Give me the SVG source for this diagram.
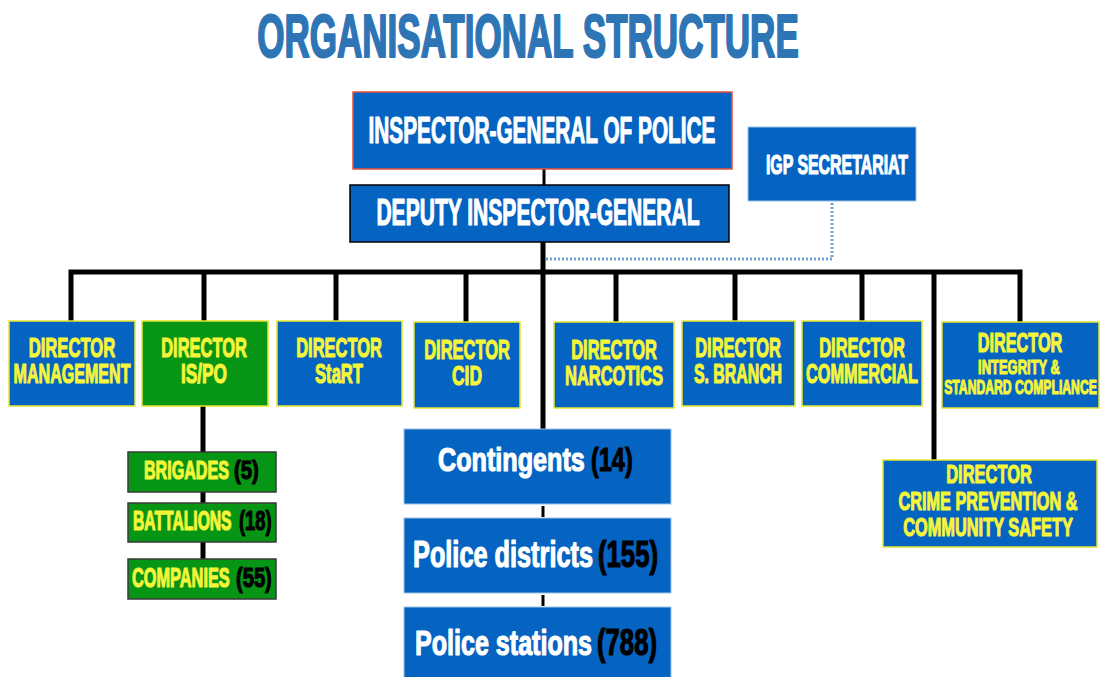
<svg xmlns="http://www.w3.org/2000/svg" width="1105" height="677" viewBox="0 0 1105 677">
<style>
text{font-family:"Liberation Sans",Arial,sans-serif;font-weight:bold;text-anchor:middle;stroke-width:1.2;stroke-linejoin:round}
.title{fill:#2E75B6;stroke:#2E75B6;stroke-width:2.2;font-size:62px}
.blue{fill:#0563C1}
.dir{fill:#0563C1;stroke:#E6E62E;stroke-width:1.5}
.dirg{fill:#079515;stroke:#E6E62E;stroke-width:1.5}
.sub{fill:#079515;stroke:#3a3a3a;stroke-width:1.5}
.stack{fill:#0563C1;stroke:#9DC3E6;stroke-width:1}
.w{fill:#FFFFFF;stroke:#FFFFFF}
.y{fill:#F5F53A;stroke:#F5F53A}
.k{fill:#000000;stroke:#000000}
.s{text-anchor:start}
.line{stroke:#000;stroke-width:5;fill:none}
.thin{stroke:#000;stroke-width:3;fill:none}
.dot{stroke:#6FA0D8;stroke-width:3;stroke-dasharray:2 2;fill:none}
</style>
<rect width="1105" height="677" fill="#FFFFFF"/>
<text class="title" transform="translate(528,57) scale(0.565,1)">ORGANISATIONAL STRUCTURE</text>

<g id="connectors">
<line class="thin" x1="544" y1="169" x2="544" y2="185"/>
<polyline class="dot" points="832,203 832,259 545,259"/>
<line class="line" x1="543" y1="242" x2="543" y2="429"/>
<polyline class="line" points="71,321 71,272 1020,272 1020,322"/>
<line class="line" x1="204" y1="272" x2="204" y2="321"/>
<line class="line" x1="336" y1="272" x2="336" y2="321"/>
<line class="line" x1="466" y1="272" x2="466" y2="322"/>
<line class="line" x1="616" y1="272" x2="616" y2="322"/>
<line class="line" x1="735" y1="272" x2="735" y2="321"/>
<line class="line" x1="862" y1="272" x2="862" y2="321"/>
<line class="line" x1="934" y1="272" x2="934" y2="460"/>
<line class="line" x1="203" y1="406" x2="203" y2="452"/>
<line class="line" x1="203" y1="492" x2="203" y2="503"/>
<line class="line" x1="203" y1="542" x2="203" y2="559"/>
<line class="thin" x1="543" y1="506" x2="543" y2="517"/>
<line class="thin" x1="543" y1="595" x2="543" y2="606"/>
</g>

<g id="igp">
<rect x="353" y="92" width="379" height="77" class="blue" stroke="#E8503A" stroke-width="1.5"/>
<text class="w" font-size="37" transform="translate(542,143) scale(0.562,1)">INSPECTOR-GENERAL OF POLICE</text>
</g>
<g id="deputy">
<rect x="350" y="185" width="379" height="57" class="blue" stroke="#000" stroke-width="1.5"/>
<text class="w" font-size="37" transform="translate(538,225) scale(0.569,1)">DEPUTY INSPECTOR-GENERAL</text>
</g>
<g id="secretariat">
<rect x="748" y="127" width="168" height="74" class="blue" stroke="#9DC3E6" stroke-width="1"/>
<text class="w" font-size="27" transform="translate(837,174) scale(0.589,1)">IGP SECRETARIAT</text>
</g>

<g id="dir-management">
<rect x="9" y="321" width="126" height="85" class="dir"/>
<text class="y" font-size="28" transform="translate(72,357) scale(0.595,1)">DIRECTOR</text>
<text class="y" font-size="28" transform="translate(72,383) scale(0.574,1)">MANAGEMENT</text>
</g>
<g id="dir-ispo">
<rect x="142" y="321" width="126" height="85" class="dirg"/>
<text class="y" font-size="28" transform="translate(204,357) scale(0.588,1)">DIRECTOR</text>
<text class="y" font-size="28" transform="translate(204,383) scale(0.616,1)">IS/PO</text>
</g>
<g id="dir-start">
<rect x="277" y="321" width="125" height="85" class="dir"/>
<text class="y" font-size="28" transform="translate(339,357) scale(0.588,1)">DIRECTOR</text>
<text class="y" font-size="28" transform="translate(339,383) scale(0.593,1)">StaRT</text>
</g>
<g id="dir-cid">
<rect x="414" y="322" width="106" height="86" class="dir"/>
<text class="y" font-size="28" transform="translate(467,359) scale(0.588,1)">DIRECTOR</text>
<text class="y" font-size="28" transform="translate(467,385) scale(0.622,1)">CID</text>
</g>
<g id="dir-narcotics">
<rect x="554" y="322" width="120" height="86" class="dir"/>
<text class="y" font-size="28" transform="translate(614,359) scale(0.588,1)">DIRECTOR</text>
<text class="y" font-size="28" transform="translate(614,385) scale(0.589,1)">NARCOTICS</text>
</g>
<g id="dir-sbranch">
<rect x="682" y="321" width="113" height="85" class="dir"/>
<text class="y" font-size="28" transform="translate(738,357) scale(0.588,1)">DIRECTOR</text>
<text class="y" font-size="28" transform="translate(738,383) scale(0.566,1)">S. BRANCH</text>
</g>
<g id="dir-commercial">
<rect x="802" y="321" width="120" height="85" class="dir"/>
<text class="y" font-size="28" transform="translate(862,357) scale(0.588,1)">DIRECTOR</text>
<text class="y" font-size="28" transform="translate(862,383) scale(0.581,1)">COMMERCIAL</text>
</g>
<g id="dir-integrity">
<rect x="942" y="322" width="157" height="86" class="dir"/>
<text class="y" font-size="27" transform="translate(1020,352) scale(0.603,1)">DIRECTOR</text>
<text class="y" font-size="21" transform="translate(1019,374) scale(0.617,1)">INTEGRITY &amp;</text>
<text class="y" font-size="21" transform="translate(1020.5,394) scale(0.58,1)">STANDARD COMPLIANCE</text>
</g>
<g id="dir-crime">
<rect x="883" y="460" width="214" height="87" class="dir"/>
<text class="y" font-size="26.5" transform="translate(989,483) scale(0.621,1)">DIRECTOR</text>
<text class="y" font-size="26.5" transform="translate(988,510) scale(0.614,1)">CRIME PREVENTION &amp;</text>
<text class="y" font-size="26.5" transform="translate(988,536) scale(0.618,1)">COMMUNITY SAFETY</text>
</g>

<g id="brigades">
<rect x="128" y="452" width="148" height="40" class="sub"/>
<text class="y s" font-size="26" transform="translate(144,479) scale(0.619,1)">BRIGADES</text>
<text class="k s" font-size="26" transform="translate(234,479) scale(0.78,1)">(5)</text>
</g>
<g id="battalions">
<rect x="128" y="503" width="148" height="39" class="sub"/>
<text class="y s" font-size="27" transform="translate(133,530) scale(0.58,1)">BATTALIONS</text>
<text class="k s" font-size="27" transform="translate(239,530) scale(0.68,1)">(18)</text>
</g>
<g id="companies">
<rect x="128" y="559" width="148" height="40" class="sub"/>
<text class="y s" font-size="28" transform="translate(132,587) scale(0.584,1)">COMPANIES</text>
<text class="k s" font-size="28" transform="translate(236,587) scale(0.72,1)">(55)</text>
</g>

<g id="contingents">
<rect x="404" y="429" width="267" height="75" class="stack"/>
<text class="w s" font-size="34" transform="translate(438,471) scale(0.741,1)">Contingents</text>
<text class="k s" font-size="34" transform="translate(591,471) scale(0.69,1)">(14)</text>
</g>
<g id="districts">
<rect x="404" y="518" width="267" height="75" class="stack"/>
<text class="w s" font-size="36" transform="translate(413,567) scale(0.703,1)">Police districts</text>
<text class="k s" font-size="36" transform="translate(598,567) scale(0.714,1)">(155)</text>
</g>
<g id="stations">
<rect x="404" y="607" width="267" height="75" class="stack"/>
<text class="w s" font-size="36" transform="translate(415,655) scale(0.697,1)">Police stations</text>
<text class="k s" font-size="36" transform="translate(597,655) scale(0.714,1)">(788)</text>
</g>
</svg>
